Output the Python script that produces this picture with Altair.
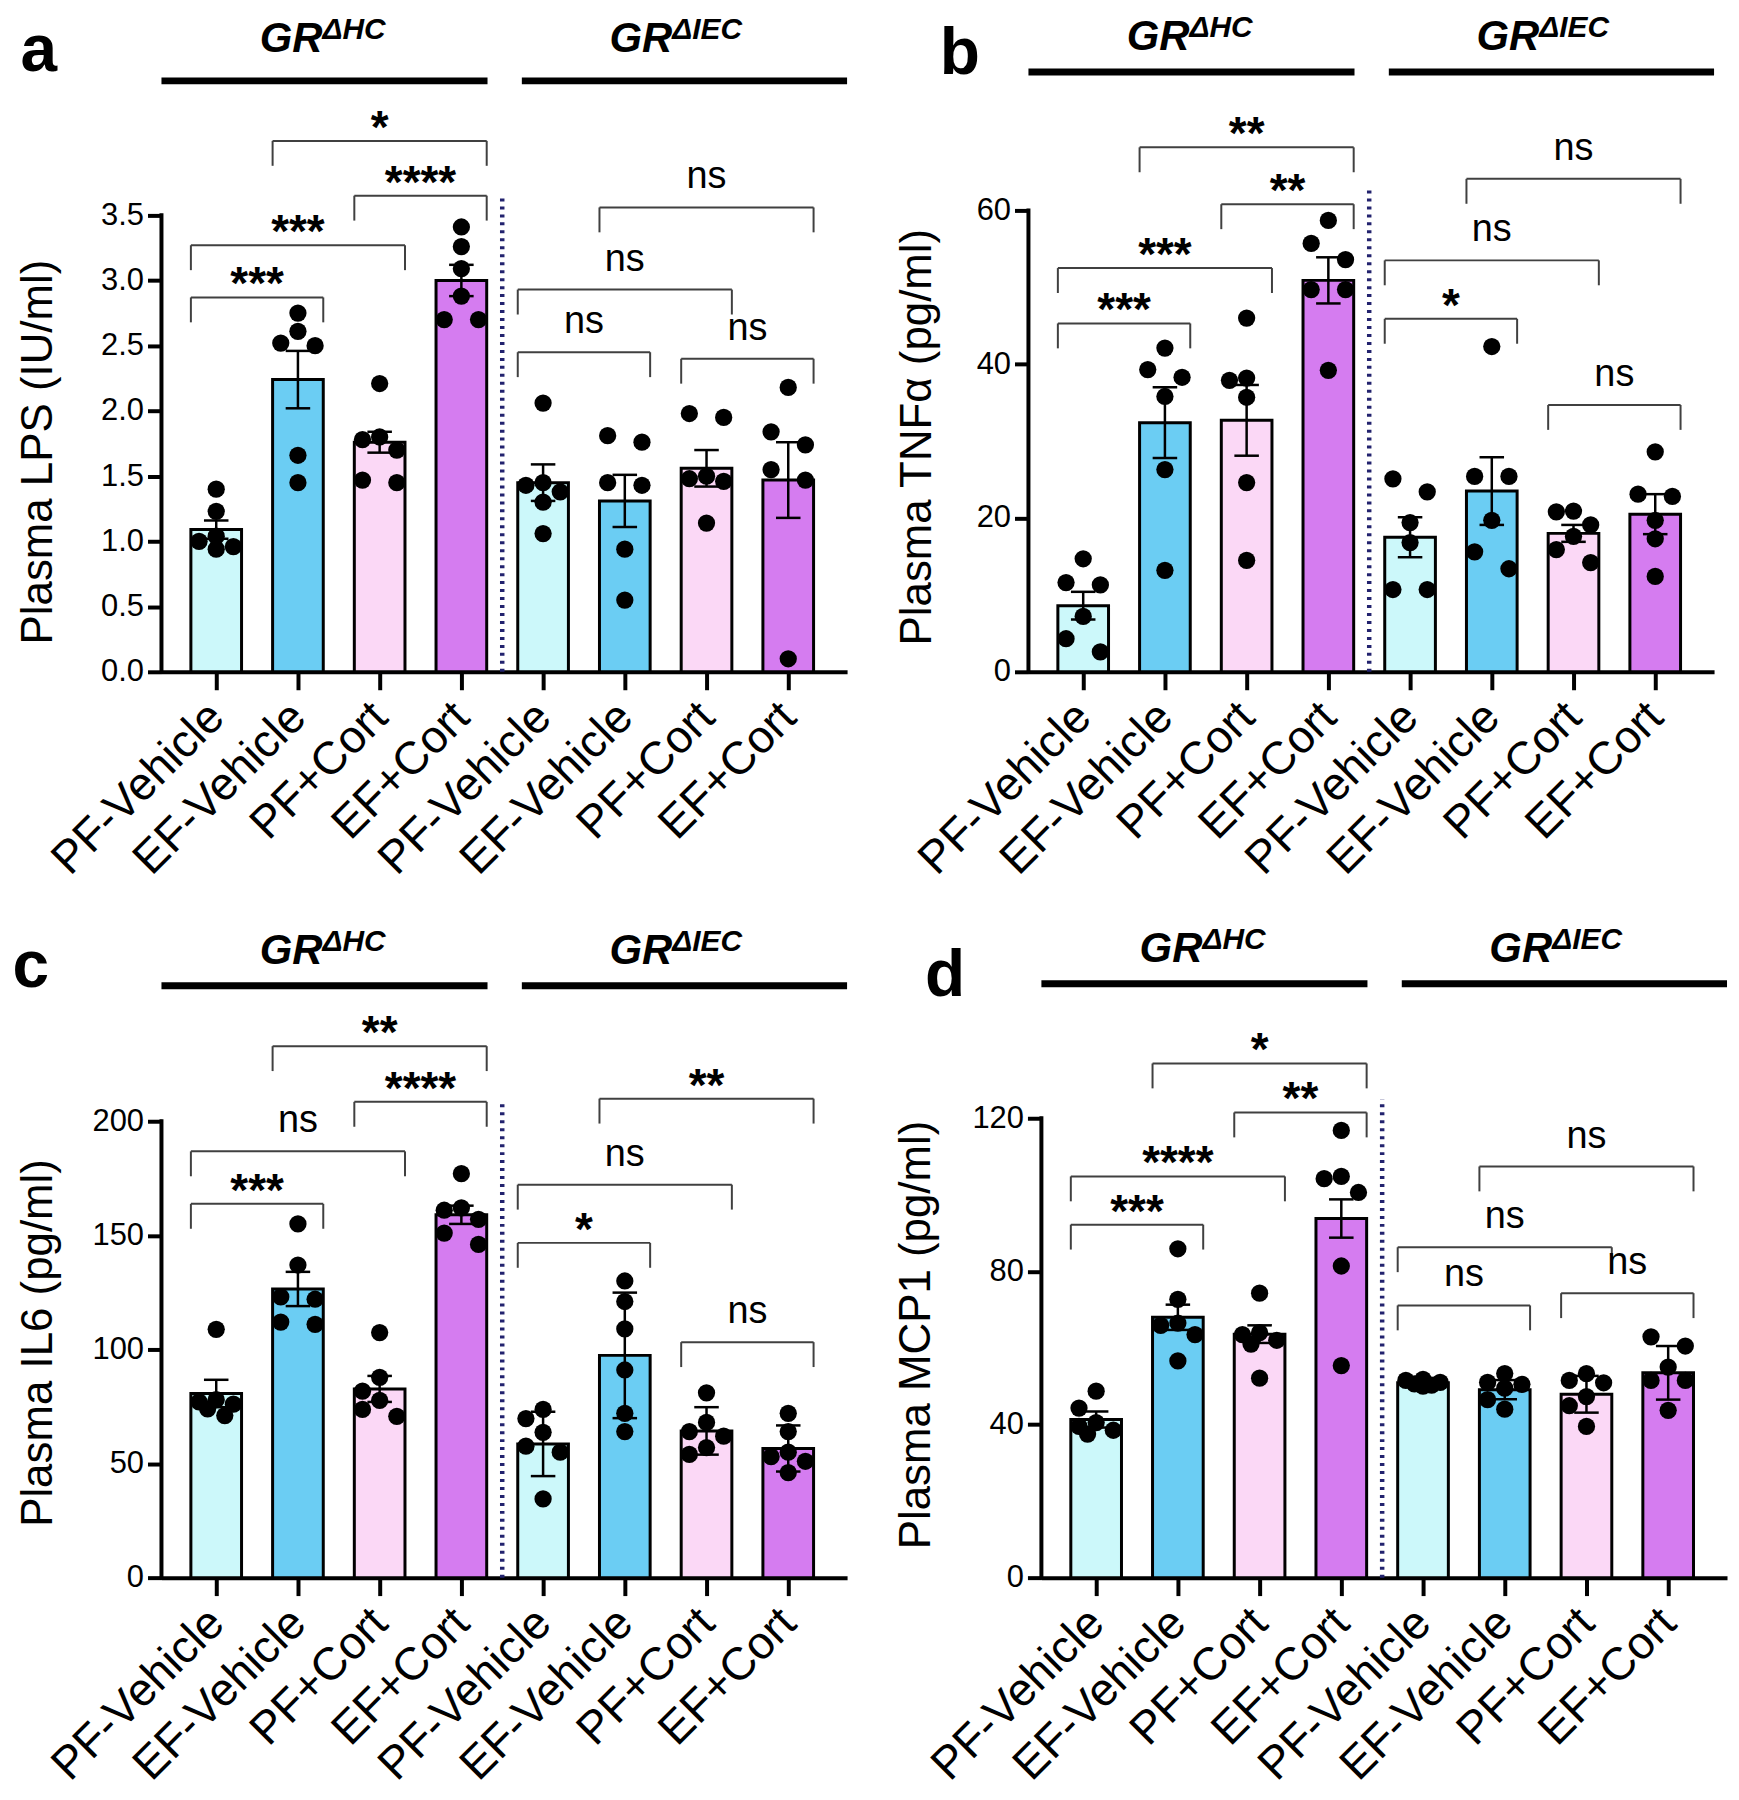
import math
import altair as alt
import pandas as pd

FONT = "Liberation Sans"

# ---------------- categories ----------------
TREATMENTS = ["PF-Vehicle", "EF-Vehicle", "PF+Cort", "EF+Cort"]
GENOTYPES = ["\u0394HC", "\u0394IEC"]
BAR_COLORS = ["#CCF8FA", "#6BCDF3", "#FBD8F6", "#D57CF0"]

# ---------------- panel a : LPS ----------------
LPS_POINTS = [
    [1.40, 1.23, 1.04, 1.00, 0.96, 0.94],
    [2.75, 2.61, 2.52, 2.50, 1.66, 1.45],
    [2.21, 1.80, 1.78, 1.70, 1.47, 1.45],
    [3.41, 3.26, 3.09, 2.88, 2.70, 2.70],
    [2.06, 1.45, 1.43, 1.38, 1.30, 1.06],
    [1.81, 1.76, 1.45, 1.43, 0.94, 0.55],
    [1.98, 1.95, 1.50, 1.48, 1.46, 1.14],
    [2.18, 1.84, 1.74, 1.55, 1.47, 0.10],
]
LPS_MEANS = [1.09, 2.24, 1.76, 3.00, 1.45, 1.31, 1.56, 1.47]
LPS_ERRS = [0.07, 0.22, 0.08, 0.12, 0.14, 0.20, 0.14, 0.29]
LPS_TICKS = [0, 0.5, 1.0, 1.5, 2.0, 2.5, 3.0, 3.5]
LPS_SIG = [(1, 3, 4.07, "*"), (2, 3, 3.65, "****"), (0, 2, 3.27, "***"), (0, 1, 2.87, "***"),
           (5, 7, 3.56, "ns"), (4, 6, 2.93, "ns"), (4, 5, 2.45, "ns"), (6, 7, 2.40, "ns")]

# ---------------- panel b : TNFa ----------------
TNF_POINTS = [
    [14.7, 11.6, 11.3, 7.2, 4.3, 2.6],
    [42.1, 39.3, 38.3, 35.8, 26.3, 13.2],
    [46.0, 38.2, 37.9, 35.7, 24.6, 14.5],
    [58.7, 55.7, 53.6, 49.7, 49.7, 39.2],
    [25.1, 23.4, 19.4, 16.8, 10.7, 10.7],
    [42.3, 25.4, 25.4, 19.7, 15.6, 13.4],
    [20.9, 20.8, 19.1, 17.6, 15.9, 14.2],
    [28.6, 23.1, 22.8, 19.7, 17.3, 12.4],
]
TNF_MEANS = [8.6, 32.4, 32.7, 50.9, 17.5, 23.5, 18.0, 20.5]
TNF_ERRS = [1.8, 4.6, 4.6, 3.0, 2.6, 4.4, 1.1, 2.6]
TNF_TICKS = [0, 20, 40, 60]
TNF_SIG = [(1, 3, 68.2, "**"), (2, 3, 60.8, "**"), (0, 2, 52.5, "***"), (0, 1, 45.3, "***"),
           (5, 7, 64.1, "ns"), (4, 6, 53.5, "ns"), (4, 5, 45.9, "*"), (6, 7, 34.7, "ns")]

# ---------------- panel c : IL6 ----------------
IL6_POINTS = [
    [108.8, 78, 77, 76, 74, 71],
    [155, 137, 123, 122, 112, 111],
    [107.4, 87.8, 81.7, 77.7, 73.7, 70.7],
    [177, 162, 161, 157, 151, 146],
    [73.7, 69.7, 63.7, 57.6, 55, 34.5],
    [130, 121, 109, 91, 72, 64],
    [81, 68, 64, 62, 57, 54],
    [72, 64, 55, 53, 51, 46],
]
IL6_MEANS = [80.7, 126.5, 82.7, 159.0, 58.6, 97.4, 64.3, 56.6]
IL6_ERRS = [6.0, 7.5, 5.7, 4.0, 14.1, 27.5, 10.4, 10.1]
IL6_TICKS = [0, 50, 100, 150, 200]
IL6_SIG = [(1, 3, 232.9, "**"), (2, 3, 208.5, "****"), (0, 2, 186.8, "ns"), (0, 1, 163.8, "***"),
           (5, 7, 209.9, "**"), (4, 6, 172.2, "ns"), (4, 5, 146.7, "*"), (6, 7, 103.2, "ns")]

# ---------------- panel d : MCP1 ----------------
MCP_POINTS = [
    [48.7, 44.3, 40.5, 39.5, 38.5, 37.5],
    [85.9, 72.7, 66.5, 65.9, 63.5, 56.6],
    [74.3, 64.0, 63.5, 62.0, 61.0, 52.1],
    [116.8, 104.8, 104.2, 100.6, 81.4, 55.4],
    [51.8, 51.5, 51.0, 50.6, 50.3, 50.0],
    [53.3, 51.0, 50.5, 49.5, 46.5, 44.0],
    [53.3, 51.5, 50.9, 47.3, 44.9, 39.5],
    [62.9, 60.5, 55.0, 51.5, 51.5, 43.7],
]
MCP_MEANS = [41.3, 68.0, 63.6, 93.8, 50.9, 49.1, 47.9, 53.5]
MCP_ERRS = [2.1, 3.3, 2.3, 5.0, 0.7, 2.5, 4.8, 7.0]
MCP_TICKS = [0, 40, 80, 120]
MCP_SIG = [(1, 3, 134.3, "*"), (2, 3, 121.5, "**"), (0, 2, 104.8, "****"), (0, 1, 92.2, "***"),
           (5, 7, 107.4, "ns"), (4, 6, 86.3, "ns"), (4, 5, 71.1, "ns"), (6, 7, 74.3, "ns")]

# ---------------- layout (positions / styles) ----------------
X_MIN, X_MAX = -0.67, 7.72
PLOT_W = 688
HALF = 0.31           # half bar width (x units)
CAP = 0.15            # half error-cap width (x units)
LEG_PX = 25           # bracket leg length (px)
DOT_SIZE = 300
DOT_DIAM = 19.5
H_TOP, H_BOT = 663, 661

PANELS = [
    dict(letter="a", title="Plasma LPS (IU/ml)", points=LPS_POINTS, means=LPS_MEANS, errs=LPS_ERRS,
         ticks=LPS_TICKS, fmt=".1f", sig=LPS_SIG, height=H_TOP, ymax=663 / 130.9,
         line_y=4.53, text_y=4.75, letter_x=-2.17, letter_y=4.607, dot_top=3.65,
         title_x=-110, title_y=442),
    dict(letter="b", title="Plasma TNF\u03b1 (pg/ml)", points=TNF_POINTS, means=TNF_MEANS, errs=TNF_ERRS,
         ticks=TNF_TICKS, fmt="d", sig=TNF_SIG, height=H_TOP, ymax=663 / 7.717,
         line_y=78.0, text_y=80.9, letter_x=-1.51, letter_y=77.75, dot_top=63.0,
         title_x=-98, title_y=427),
    dict(letter="c", title="Plasma IL6 (pg/ml)", points=IL6_POINTS, means=IL6_MEANS, errs=IL6_ERRS,
         ticks=IL6_TICKS, fmt="d", sig=IL6_SIG, height=H_BOT, ymax=661 / 2.29,
         line_y=259.4, text_y=269.0, letter_x=-2.27, letter_y=259.0, dot_top=209.0,
         title_x=-110, title_y=425),
    dict(letter="d", title="Plasma MCP1 (pg/ml)", points=MCP_POINTS, means=MCP_MEANS, errs=MCP_ERRS,
         ticks=MCP_TICKS, fmt="d", sig=MCP_SIG, height=H_BOT, ymax=661 / 3.842,
         line_y=155.1, text_y=160.9, letter_x=-1.85, letter_y=152.0, dot_top=125.0,
         title_x=-112, title_y=417),
]


def swarm(vals, ky, kx, step=0.21):
    """Deterministic beeswarm offsets (x units) so dots do not overlap much."""
    order = sorted(range(len(vals)), key=lambda i: -vals[i])
    res = [0.0] * len(vals)
    placed = []
    lim = DOT_DIAM * 0.9

    def mind(c, ypx):
        xpx = c * step * kx
        return min([math.hypot(xpx - px, ypx - py) for px, py in placed], default=1e9)

    n = 0
    while n < len(order):
        i = order[n]
        ypx = vals[i] * ky
        if n + 1 < len(order):
            j = order[n + 1]
            ypx2 = vals[j] * ky
            third_far = n + 2 >= len(order) or abs(ypx2 - vals[order[n + 2]] * ky) >= lim
            if abs(ypx - ypx2) < lim and third_far and mind(-1, ypx) >= lim and mind(1, ypx2) >= lim:
                res[i], res[j] = -step, step
                placed += [(-step * kx, ypx), (step * kx, ypx2)]
                n += 2
                continue
        best, bestd = 0, -1.0
        for c in [0, -1, 1, -0.5, 0.5]:
            d = mind(c, ypx)
            if d >= lim:
                best = c
                break
            if d > bestd:
                bestd, best = d, c
        res[i] = best * step
        placed.append((best * step * kx, ypx))
        n += 1
    return res


def make_panel(cfg):
    W, H, ymax = PLOT_W, cfg["height"], cfg["ymax"]
    ky = H / ymax
    kx = W / (X_MAX - X_MIN)
    xs = alt.Scale(domain=[X_MIN, X_MAX], nice=False, zero=False)
    ys = alt.Scale(domain=[0, ymax], nice=False, zero=False)
    label_expr = "[" + ",".join("'%s'" % t for t in TREATMENTS) + "][datum.value % 4]"
    xax = alt.Axis(values=list(range(8)), labelExpr=label_expr, title=None, grid=False,
                   labelAngle=-45, labelAlign="right", labelBaseline="middle", labelFontSize=46,
                   labelFont=FONT, labelColor="black", labelPadding=20, tickSize=18, tickWidth=4,
                   tickColor="black", domainWidth=4, domainColor="black", labelOverlap=False,
                   labelFlush=False, labelBound=False, labelLimit=600)
    yax = alt.Axis(values=cfg["ticks"], format=cfg["fmt"], title=cfg["title"], grid=False, domain=False,
                   tickSize=14, tickWidth=4, tickColor="black", labelFontSize=31, labelFont=FONT,
                   labelColor="black", labelPadding=4, titleFont=FONT, titleFontSize=44,
                   titleFontWeight="normal", titleColor="black", titleX=cfg["title_x"],
                   titleY=cfg["title_y"], titleBaseline="alphabetic", titleAngle=270,
                   labelFlush=False, labelOverlap=False)

    def X(f):
        return alt.X(f, type="quantitative", scale=xs, axis=xax)

    def Y(f):
        return alt.Y(f, type="quantitative", scale=ys, axis=yax)

    bars = pd.DataFrame({
        "idx": list(range(8)),
        "treat": TREATMENTS * 2,
        "mean": cfg["means"],
        "err": cfg["errs"],
    })
    bars["x1"] = bars["idx"] - HALF
    bars["x2"] = bars["idx"] + HALF
    bars["c1"] = bars["idx"] - CAP
    bars["c2"] = bars["idx"] + CAP
    bars["lo"] = bars["mean"] - bars["err"]
    bars["hi"] = bars["mean"] + bars["err"]
    bars["zero"] = 0.0

    prow = []
    for g, vals in enumerate(cfg["points"]):
        offs = swarm(vals, ky, kx)
        for v, o in zip(vals, offs):
            prow.append({"idx": g, "v": float(v), "xj": g + o})
    pts = pd.DataFrame(prow)

    axis_line = pd.DataFrame({"x": [X_MIN], "y0": [0.0], "y1": [float(cfg["ticks"][-1])]})
    divider = pd.DataFrame({"x": [3.5], "y0": [0.0], "y1": [cfg["dot_top"]]})

    leg = LEG_PX / ky
    br_h, br_v, stars, ns = [], [], [], []
    for i, j, lvl, lab in cfg["sig"]:
        a, b = i - HALF, j + HALF
        br_h.append({"x1": a, "x2": b, "y": lvl})
        br_v.append({"x": a, "y": lvl, "y2": lvl - leg})
        br_v.append({"x": b, "y": lvl, "y2": lvl - leg})
        (stars if "*" in lab else ns).append({"x": (a + b) / 2, "y": lvl, "t": lab})
    br_h, br_v = pd.DataFrame(br_h), pd.DataFrame(br_v)
    stars, ns = pd.DataFrame(stars), pd.DataFrame(ns)

    head_lines = pd.DataFrame({"x1": [-0.67, 3.74], "x2": [3.32, 7.72],
                               "y": [cfg["line_y"]] * 2})
    head_gr = pd.DataFrame({"x": [1.30, 5.58], "y": [cfg["text_y"]] * 2, "t": ["GR", "GR"]})
    head_sup = pd.DataFrame({"x": [1.30, 5.58], "y": [cfg["text_y"]] * 2, "t": GENOTYPES})
    letter = pd.DataFrame({"x": [cfg["letter_x"]], "y": [cfg["letter_y"]], "t": [cfg["letter"]]})

    layers = [
        alt.Chart(bars).mark_bar(stroke="black", strokeWidth=3).encode(
            x=X("x1"), x2=alt.X2("x2"), y=Y("mean"), y2=alt.Y2("zero"),
            fill=alt.Fill("treat:N", scale=alt.Scale(domain=TREATMENTS, range=BAR_COLORS), legend=None)),
        alt.Chart(bars).mark_rule(color="black", strokeWidth=2.5).encode(
            x=X("idx"), y=Y("lo"), y2=alt.Y2("hi")),
        alt.Chart(bars).mark_rule(color="black", strokeWidth=2.5).encode(
            x=X("c1"), x2=alt.X2("c2"), y=Y("hi")),
        alt.Chart(bars).mark_rule(color="black", strokeWidth=2.5).encode(
            x=X("c1"), x2=alt.X2("c2"), y=Y("lo")),
        alt.Chart(pts).mark_circle(size=DOT_SIZE, color="black", opacity=1).encode(
            x=X("xj"), y=Y("v")),
        alt.Chart(axis_line).mark_rule(color="black", strokeWidth=4, strokeCap="square").encode(
            x=X("x"), y=Y("y0"), y2=alt.Y2("y1")),
        alt.Chart(divider).mark_rule(color="#22226e", strokeWidth=4.5, strokeDash=[3, 5]).encode(
            x=X("x"), y=Y("y0"), y2=alt.Y2("y1")),
        alt.Chart(br_h).mark_rule(color="#404040", strokeWidth=2).encode(
            x=X("x1"), x2=alt.X2("x2"), y=Y("y")),
        alt.Chart(br_v).mark_rule(color="#404040", strokeWidth=2).encode(
            x=X("x"), y=Y("y"), y2=alt.Y2("y2")),
        alt.Chart(stars).mark_text(font=FONT, fontSize=46, fontWeight="bold", color="black",
                                   baseline="alphabetic", align="center", dy=2).encode(
            x=X("x"), y=Y("y"), text="t:N"),
        alt.Chart(ns).mark_text(font=FONT, fontSize=38, color="black",
                                baseline="alphabetic", align="center", dy=-19).encode(
            x=X("x"), y=Y("y"), text="t:N"),
        alt.Chart(head_lines).mark_rule(color="black", strokeWidth=7).encode(
            x=X("x1"), x2=alt.X2("x2"), y=Y("y")),
        alt.Chart(head_gr).mark_text(font=FONT, fontSize=42, fontStyle="italic", fontWeight="bold",
                                     color="black", align="right", baseline="alphabetic").encode(
            x=X("x"), y=Y("y"), text="t:N"),
        alt.Chart(head_sup).mark_text(font=FONT, fontSize=30, fontStyle="italic", fontWeight="bold",
                                      color="black", align="left", baseline="alphabetic", dy=-13).encode(
            x=X("x"), y=Y("y"), text="t:N"),
        alt.Chart(letter).mark_text(font=FONT, fontSize=66, fontWeight="bold", color="black",
                                    align="center", baseline="alphabetic").encode(
            x=X("x"), y=Y("y"), text="t:N"),
    ]
    return alt.layer(*layers).properties(width=W, height=H)


pa, pb, pc, pd_ = [make_panel(c) for c in PANELS]
top = alt.hconcat(pa, pb, spacing=45)
bottom = alt.hconcat(pc, pd_, spacing=44)
chart = alt.vconcat(top, bottom, spacing=36).properties(
    padding={"left": 4, "top": 0, "right": 0, "bottom": 5},
    background="white",
).configure(font=FONT).configure_view(stroke="transparent", strokeWidth=0)

chart.save("out.html", embed_options={"renderer": "svg", "actions": False})
